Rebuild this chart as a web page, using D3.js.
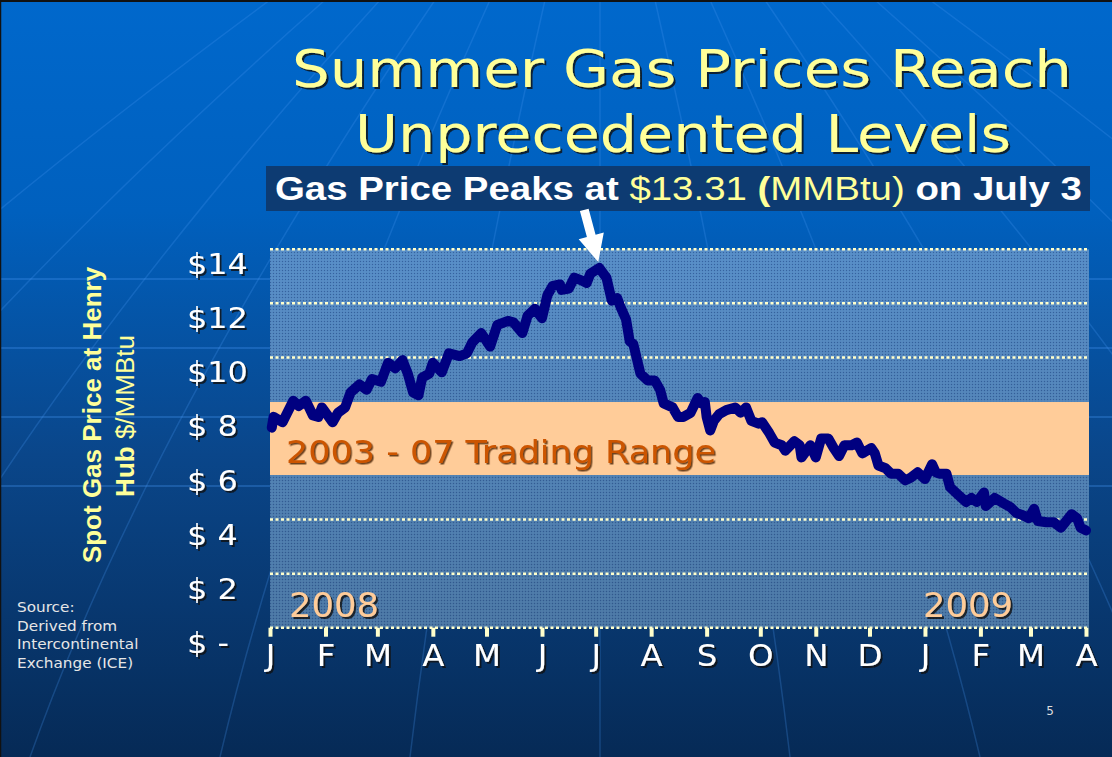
<!DOCTYPE html>
<html>
<head>
<meta charset="utf-8">
<script src="https://cdn.jsdelivr.net/npm/d3@7"></script>
<style>
	body { margin: 0; background: #fff; }
	svg { display: block; }
</style>
</head>
<body>
<div id="chart"></div>
<script>

// spot price at Henry Hub ($/MMBtu)
var dates = [
	"2008-01-02","2008-01-03","2008-01-08","2008-01-14","2008-01-17","2008-01-21","2008-01-25","2008-01-28","2008-01-30",
	"2008-02-05","2008-02-08","2008-02-12","2008-02-15","2008-02-20","2008-02-24","2008-02-27",
	"2008-03-03","2008-03-07","2008-03-11","2008-03-15","2008-03-18","2008-03-21","2008-03-24","2008-03-26","2008-03-30",
	"2008-04-01","2008-04-06","2008-04-10","2008-04-16","2008-04-20","2008-04-23","2008-04-28",
	"2008-05-03","2008-05-07","2008-05-13","2008-05-16","2008-05-21","2008-05-24","2008-05-28",
	"2008-06-01","2008-06-04","2008-06-07","2008-06-11","2008-06-12","2008-06-16","2008-06-19","2008-06-23","2008-06-26","2008-06-28",
	"2008-07-03","2008-07-07","2008-07-10","2008-07-13","2008-07-15","2008-07-18","2008-07-20","2008-07-22","2008-07-26","2008-07-30",
	"2008-08-03","2008-08-06","2008-08-08","2008-08-13","2008-08-16","2008-08-19","2008-08-23","2008-08-27","2008-08-29","2008-08-31",
	"2008-09-01","2008-09-03","2008-09-05","2008-09-08","2008-09-12","2008-09-17","2008-09-20","2008-09-23","2008-09-26","2008-09-30",
	"2008-10-02","2008-10-06","2008-10-09","2008-10-13","2008-10-15","2008-10-20","2008-10-23","2008-10-24","2008-10-29",
	"2008-11-01","2008-11-04","2008-11-08","2008-11-11","2008-11-14","2008-11-17","2008-11-21","2008-11-24","2008-11-27",
	"2008-12-02","2008-12-04","2008-12-06","2008-12-10","2008-12-13","2008-12-17","2008-12-21","2008-12-24","2008-12-28",
	"2009-01-01","2009-01-05","2009-01-07","2009-01-09","2009-01-13","2009-01-15","2009-01-19","2009-01-24","2009-01-27","2009-01-30",
	"2009-02-03","2009-02-04","2009-02-09","2009-02-14","2009-02-18","2009-02-21","2009-02-25","2009-02-28",
	"2009-03-03","2009-03-05","2009-03-10","2009-03-14","2009-03-18","2009-03-21","2009-03-24","2009-03-27","2009-03-29",
	"2009-04-01"
];

var prices = [
	7.4, 7.8, 7.6, 8.4, 8.2, 8.4, 7.85, 7.8, 8.15,
	7.6, 7.95, 8.15, 8.7, 9.0, 8.8, 9.2,
	9.1, 9.8, 9.6, 9.9, 9.4, 8.7, 8.6, 9.25, 9.4,
	9.8, 9.45, 10.15, 10.05, 10.15, 10.55, 10.9,
	10.4, 11.2, 11.35, 11.3, 10.9, 11.55, 11.8,
	11.45, 12.3, 12.65, 12.7, 12.5, 12.55, 12.95, 12.85, 12.75, 13.1,
	13.31, 12.95, 12.1, 12.2, 11.85, 11.4, 10.6, 10.5, 9.4, 9.15,
	9.15, 8.8, 8.3, 8.15, 7.8, 7.8, 7.95, 8.5, 8.3, 8.35,
	7.8, 7.3, 7.65, 7.9, 8.05, 8.15, 7.95, 8.15, 7.65, 7.55,
	7.6, 7.2, 6.85, 6.75, 6.55, 6.9, 6.75, 6.3, 6.75,
	6.3, 7.0, 7.0, 6.65, 6.35, 6.75, 6.75, 6.85, 6.45,
	6.65, 6.45, 6.0, 5.9, 5.7, 5.7, 5.45, 5.55, 5.75,
	5.5, 6.05, 5.75, 5.7, 5.7, 5.2, 4.95, 4.65, 4.8, 4.65,
	5.0, 4.5, 4.8, 4.6, 4.45, 4.25, 4.15, 4.05,
	4.4, 3.95, 3.9, 3.9, 3.7, 3.95, 4.2, 4.05, 3.7,
	3.6
];

var monthLabels = ["J","F","M","A","M","J","J","A","S","O","N","D","J","F","M","A"];
var priceTicks = [0, 2, 4, 6, 8, 10, 12, 14];
var priceTickLabels = ["$ -","$ 2","$ 4","$ 6","$ 8","$10","$12","$14"];
var tradingRange = [5.65, 8.35];   // 2003-07 band
var yearLabels = ["2008", "2009"];
var peakDate = "2008-07-03", peakPrice = 13.31;
var sourceLines = ["Source:", "Derived from", "Intercontinental", "Exchange (ICE)"];

// magic numbers
var W = 1112, H = 757,
	plot = {left: 270, right: 1089, top: 249.3, bottom: 627.7};

var parse = d3.timeParse("%Y-%m-%d");
var data = dates.map(function(d, i){ return {date: parse(d), price: prices[i]}; });

var x = d3.scaleTime()
		.domain([parse("2008-01-01"), parse("2009-04-01")])
		.range([270, 1086]);

var y = d3.scaleLinear()
		.domain([0, 14])
		.range([plot.bottom, plot.top]);

var svg = d3.select("#chart").append("svg")
		.attr("width", W)
		.attr("height", H);

var defs = svg.append("defs");

var bg = defs.append("linearGradient").attr("id", "bg").attr("x1", 0).attr("y1", 0).attr("x2", 0).attr("y2", 1);
bg.append("stop").attr("offset", "0%").attr("stop-color", "#0068cc");
bg.append("stop").attr("offset", "28%").attr("stop-color", "#0060be");
bg.append("stop").attr("offset", "60%").attr("stop-color", "#0a468a");
bg.append("stop").attr("offset", "100%").attr("stop-color", "#062a56");

var pg = defs.append("linearGradient").attr("id", "plotbg").attr("x1", 0).attr("y1", 0).attr("x2", 0).attr("y2", 1);
pg.append("stop").attr("offset", "0%").attr("stop-color", "#5a8ec7");
pg.append("stop").attr("offset", "100%").attr("stop-color", "#4d79a6");

var dots = defs.append("pattern").attr("id", "dots")
		.attr("width", 3).attr("height", 3)
		.attr("patternUnits", "userSpaceOnUse");
dots.append("rect").attr("width", 1).attr("height", 1).attr("fill", "rgba(20,50,110,0.45)");
dots.append("rect").attr("x", 1.5).attr("y", 1.5).attr("width", 1).attr("height", 1).attr("fill", "rgba(150,190,230,0.35)");

function shadowFilter(id, color, dx){
	defs.append("filter").attr("id", id)
			.attr("x", "-10%").attr("y", "-20%").attr("width", "130%").attr("height", "150%")
		.append("feDropShadow")
			.attr("dx", dx).attr("dy", dx)
			.attr("stdDeviation", 0.4)
			.attr("flood-color", color)
			.attr("flood-opacity", 0.8);
}
shadowFilter("shadow", "#111", 2);
shadowFilter("shadowBrown", "#4a2000", 1.5);

// stretch text sideways, the slide is wider than 4:3
function stretch(sel, k){
	sel.each(function(){
		var len = this.getComputedTextLength();
		d3.select(this).attr("textLength", len * k).attr("lengthAdjust", "spacingAndGlyphs");
	});
}
function fit(sel, w){
	sel.attr("textLength", w).attr("lengthAdjust", "spacingAndGlyphs");
}

// BACKGROUND
svg.append("rect").attr("width", W).attr("height", H).attr("fill", "url(#bg)");

var deco = svg.append("g").attr("fill", "none");
[279, 348, 417, 486].forEach(function(ly){
	deco.append("line")
			.attr("x1", 0).attr("x2", W)
			.attr("y1", ly).attr("y2", ly)
			.attr("stroke", "rgba(70,150,245,0.4)")
			.attr("stroke-width", 1.5);
});
d3.range(-6, 7).forEach(function(k){
	var x0 = 600 + k * 55, x1 = 600 + k * 190;
	deco.append("path")
			.attr("d", "M" + x0 + ",0 Q" + (600 + k * 150) + "," + 420 + " " + x1 + "," + H)
			.attr("stroke", "rgba(70,150,245,0.25)")
			.attr("stroke-width", 1.5);
});

svg.append("line").attr("x1", 0).attr("x2", W).attr("y1", 1).attr("y2", 1).attr("stroke", "#111").attr("stroke-width", 2);
svg.append("line").attr("x1", 0.5).attr("x2", 0.5).attr("y1", 0).attr("y2", H).attr("stroke", "#111").attr("stroke-width", 1.5);

// TITLE
var title = svg.append("g")
		.attr("fill", "#ffff99")
		.attr("font-family", "'DejaVu Sans', Verdana, sans-serif")
		.attr("font-size", 52)
		.attr("text-anchor", "middle")
		.attr("filter", "url(#shadow)");

title.append("text").attr("x", 682).attr("y", 87).text("Summer Gas Prices Reach").call(fit, 780);
title.append("text").attr("x", 683).attr("y", 152).text("Unprecedented Levels").call(fit, 656);

// SUBTITLE BANNER
svg.append("rect")
		.attr("x", 266).attr("y", 166)
		.attr("width", 824).attr("height", 45)
		.attr("fill", "#0d3b72");

var sub_g = svg.append("g");
var sub = sub_g.append("text")
		.attr("x", 0).attr("y", 0)
		.attr("font-family", "'Liberation Sans', Arial, sans-serif")
		.attr("font-size", 34);
sub.append("tspan").attr("font-weight", "bold").attr("fill", "#fff").text("Gas Price Peaks at ");
sub.append("tspan").attr("fill", "#ffff99").text(d3.format("$.2f")(peakPrice) + " ");
sub.append("tspan").attr("fill", "#ffff99").attr("font-weight", "bold").text("(");
sub.append("tspan").attr("fill", "#ffff99").text("MMBtu)");
sub.append("tspan").attr("font-weight", "bold").attr("fill", "#fff").text(" on " + d3.timeFormat("%B %-d")(parse(peakDate)));
var sub_len = sub.node().getComputedTextLength();
sub_g.attr("transform", "translate(275,200) scale(" + (807 / sub_len) + ",1)");

// PLOT AREA
svg.append("rect")
		.attr("x", plot.left).attr("y", plot.top)
		.attr("width", plot.right - plot.left).attr("height", plot.bottom - plot.top)
		.attr("fill", "url(#plotbg)")
		.attr("opacity", 0.93);
svg.append("rect")
		.attr("x", plot.left).attr("y", plot.top)
		.attr("width", plot.right - plot.left).attr("height", plot.bottom - plot.top)
		.attr("fill", "url(#dots)");

// dotted gridlines
svg.append("g").selectAll(".grid")
		.data(priceTicks)
	.enter().append("line")
		.attr("class", "grid")
		.attr("x1", plot.left).attr("x2", 1087)
		.attr("y1", function(d){ return y(d); })
		.attr("y2", function(d){ return y(d); })
		.attr("stroke", "#ffffcc")
		.attr("stroke-width", 2.5)
		.attr("stroke-dasharray", "3,2.5");

// trading range band
svg.append("rect")
		.attr("x", plot.left)
		.attr("y", y(tradingRange[1]))
		.attr("width", plot.right - plot.left)
		.attr("height", y(tradingRange[0]) - y(tradingRange[1]))
		.attr("fill", "#ffcc99");

svg.append("text")
		.attr("x", 286).attr("y", 463)
		.attr("font-family", "'DejaVu Sans', Verdana, sans-serif")
		.attr("font-size", 32)
		.attr("fill", "#cc5500")
		.attr("filter", "url(#shadowBrown)")
		.text("2003 - 07 Trading Range")
		.call(fit, 430);

// year labels
svg.selectAll(".year")
		.data(yearLabels)
	.enter().append("text")
		.attr("class", "year")
		.attr("x", function(d, i){ return i == 0 ? x(parse("2008-01-01")) + 19 : x(parse("2009-01-01")) - 2; })
		.attr("y", 617)
		.attr("font-family", "'DejaVu Sans', Verdana, sans-serif")
		.attr("font-size", 33)
		.attr("fill", "#ffcc99")
		.attr("filter", "url(#shadow)")
		.text(function(d){ return d; })
		.call(fit, 90);

// Y AXIS
var yAxis = svg.append("g")
		.attr("transform", "translate(" + plot.left + ",0)")
		.call(d3.axisLeft(y).tickValues(priceTicks).tickSize(0)
			.tickFormat(function(d, i){ return priceTickLabels[i]; }));
yAxis.select(".domain").remove();
yAxis.selectAll("text")
		.attr("x", -83)
		.attr("dy", 24.5)
		.attr("text-anchor", "start")
		.attr("font-family", "'DejaVu Sans', Verdana, sans-serif")
		.attr("font-size", 28)
		.attr("fill", "#fff")
		.attr("filter", "url(#shadow)")
		.call(stretch, 1.14);

// X AXIS
var xAxis = svg.append("g")
		.attr("transform", "translate(0," + plot.bottom + ")")
		.call(d3.axisBottom(x)
			.tickValues(d3.timeMonth.range(parse("2008-01-01"), parse("2009-04-02")))
			.tickSize(9)
			.tickFormat(function(d, i){ return monthLabels[i]; }));
xAxis.select(".domain").remove();
xAxis.selectAll(".tick line")
		.attr("stroke", "#ffffcc")
		.attr("stroke-width", 4);
xAxis.selectAll("text")
		.attr("y", 38.5)
		.attr("dy", 0)
		.attr("font-family", "'DejaVu Sans', Verdana, sans-serif")
		.attr("font-size", 30)
		.attr("fill", "#fff")
		.attr("filter", "url(#shadow)")
		.call(stretch, 1.08);

// PRICE LINE
var line = d3.line()
		.x(function(d){ return x(d.date); })
		.y(function(d){ return y(d.price); });

svg.append("path")
		.datum(data)
		.attr("d", line)
		.attr("fill", "none")
		.attr("stroke", "#000080")
		.attr("stroke-width", 10)
		.attr("stroke-linejoin", "round")
		.attr("stroke-linecap", "round");

// arrow to the peak
var tip = [x(parse(peakDate)) - 1, y(peakPrice) - 6],
	dir = [14, 52],
	len = Math.sqrt(dir[0] * dir[0] + dir[1] * dir[1]),
	u = [dir[0] / len, dir[1] / len],
	n = [-u[1], u[0]],
	headLen = 27, headHalf = 13, shaftHalf = 4.5;
var base = [tip[0] - u[0] * headLen, tip[1] - u[1] * headLen],
	tail = [tip[0] - u[0] * len, tip[1] - u[1] * len];
var arrowPts = [
	[tail[0] + n[0] * shaftHalf, tail[1] + n[1] * shaftHalf],
	[base[0] + n[0] * shaftHalf, base[1] + n[1] * shaftHalf],
	[base[0] + n[0] * headHalf, base[1] + n[1] * headHalf],
	tip,
	[base[0] - n[0] * headHalf, base[1] - n[1] * headHalf],
	[base[0] - n[0] * shaftHalf, base[1] - n[1] * shaftHalf],
	[tail[0] - n[0] * shaftHalf, tail[1] - n[1] * shaftHalf]
];
svg.append("polygon")
		.attr("points", arrowPts.map(function(p){ return p.join(","); }).join(" "))
		.attr("fill", "#fff");

// Y TITLE
var ytitle = svg.append("g")
		.attr("font-family", "'Liberation Sans', Arial, sans-serif")
		.attr("font-size", 26)
		.attr("fill", "#ffff99")
		.attr("text-anchor", "middle");
ytitle.append("text")
		.attr("transform", "translate(101,415) rotate(-90)")
		.attr("font-weight", "bold")
		.text("Spot Gas Price at Henry");
var yt2 = ytitle.append("text")
		.attr("transform", "translate(134,416) rotate(-90)");
yt2.append("tspan").attr("font-weight", "bold").text("Hub");
yt2.append("tspan").text(" $/MMBtu");

// SOURCE
svg.append("g").selectAll("text")
		.data(sourceLines)
	.enter().append("text")
		.attr("x", 17)
		.attr("y", function(d, i){ return 612 + i * 18.6; })
		.attr("font-family", "'DejaVu Sans', Verdana, sans-serif")
		.attr("font-size", 13.5)
		.attr("fill", "#e6e6e6")
		.text(function(d){ return d; })
		.call(stretch, 1.13);

// page number
svg.append("text")
		.attr("x", 1050).attr("y", 715)
		.attr("text-anchor", "middle")
		.attr("font-family", "'DejaVu Sans', Verdana, sans-serif")
		.attr("font-size", 12)
		.attr("fill", "#ddd")
		.text("5");

</script>
</body>
</html>
